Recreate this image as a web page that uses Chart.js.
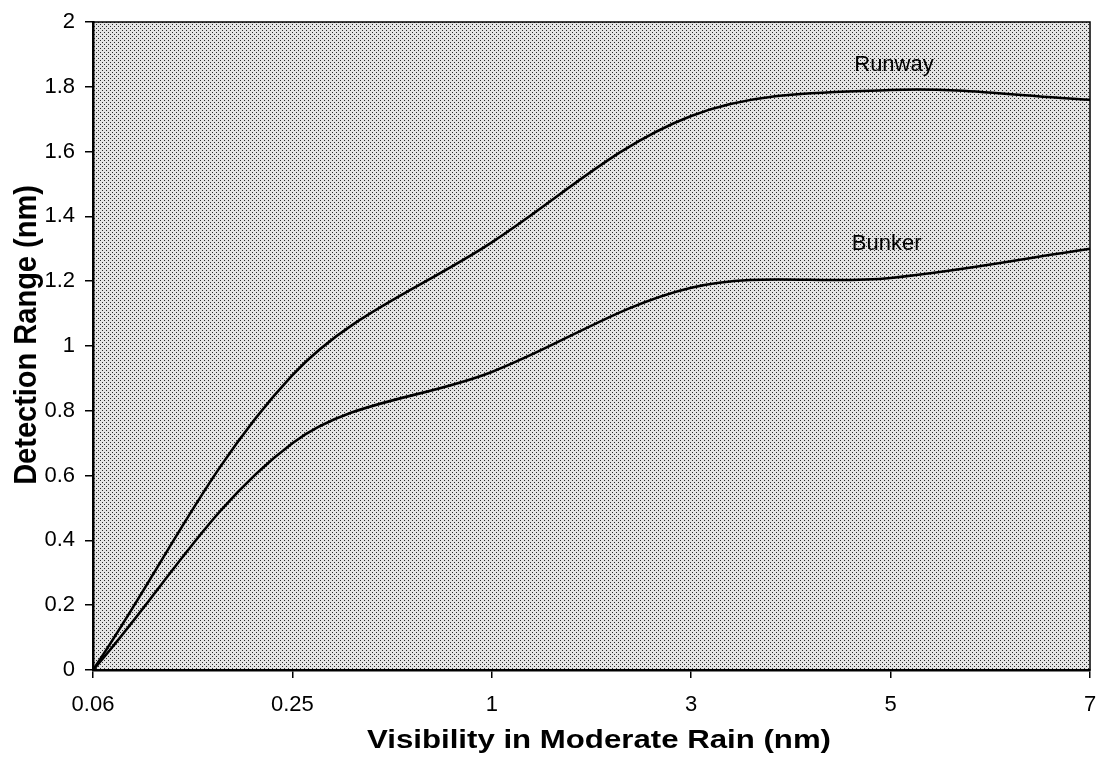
<!DOCTYPE html>
<html>
<head>
<meta charset="utf-8">
<script src="https://cdn.jsdelivr.net/npm/chart.js@4/dist/chart.umd.min.js"></script>
<style>
  html, body { margin: 0; padding: 0; background: #ffffff; }
  #wrap { width: 1097px; height: 759px; position: relative; }
</style>
</head>
<body>
<div id="wrap"><canvas id="c" width="1097" height="759"></canvas></div>
<script>
// ---- data ----
const visibility = ['0.06', '0.25', '1', '3', '5', '7'];
const runway = [0, 0.91, 1.32, 1.71, 1.79, 1.76];
const bunker = [0, 0.70, 0.92, 1.18, 1.21, 1.30];
const yTicks = [0, 0.2, 0.4, 0.6, 0.8, 1, 1.2, 1.4, 1.6, 1.8, 2];
const seriesNames = ['Runway', 'Bunker'];
const xTitle = 'Visibility in Moderate Rain (nm)';
const yTitle = 'Detection Range (nm)';

const FONT = '"Liberation Sans", Arial, Helvetica, sans-serif';

function makePattern(ctx) {
  const p = document.createElement('canvas');
  p.width = 4; p.height = 4;
  const pc = p.getContext('2d');
  pc.fillStyle = '#e4e4e4';
  pc.fillRect(0, 0, 4, 4);
  pc.fillStyle = '#2a2a2a';
  pc.fillRect(0, 0, 1, 1);
  pc.fillRect(2, 2, 1, 1);
  return ctx.createPattern(p, 'repeat');
}

const plotDecor = {
  id: 'plotDecor',
  beforeDraw(chart) {
    const { ctx, chartArea: a } = chart;
    ctx.save();
    ctx.fillStyle = makePattern(ctx);
    ctx.fillRect(a.left, a.top, a.right - a.left, a.bottom - a.top);
    ctx.restore();
  },
  afterDatasetsDraw(chart) {
    const { ctx, chartArea: a, scales } = chart;
    ctx.save();
    ctx.strokeStyle = '#000';
    ctx.lineWidth = 1.5;
    ctx.strokeRect(a.left, a.top, a.right - a.left, a.bottom - a.top);
    // series labels
    ctx.fillStyle = '#000';
    ctx.font = '22px ' + FONT;
    ctx.textAlign = 'center';
    ctx.textBaseline = 'middle';
    ctx.fillText(seriesNames[0], scales.x.getPixelForValue(4.017), scales.y.getPixelForValue(1.867));
    ctx.fillText(seriesNames[1], scales.x.getPixelForValue(3.98), scales.y.getPixelForValue(1.315));
    ctx.restore();
  },
  afterDraw(chart) {
    const { ctx } = chart;
    ctx.save();
    ctx.fillStyle = '#000';
    ctx.textAlign = 'center';
    ctx.textBaseline = 'alphabetic';
    // x axis title (slightly wide lettering, as in the original)
    ctx.font = 'bold 26px ' + FONT;
    ctx.save();
    ctx.translate(599, 748);
    ctx.scale(1.2, 1);
    ctx.fillText(xTitle, 0, 0);
    ctx.restore();
    // y axis title
    ctx.font = 'bold 29px ' + FONT;
    ctx.save();
    ctx.translate(36, 335);
    ctx.rotate(-Math.PI / 2);
    ctx.scale(1, 1.05);
    ctx.fillText(yTitle, 0, 0);
    ctx.restore();
    ctx.restore();
  }
};

new Chart(document.getElementById('c'), {
  type: 'line',
  data: {
    labels: visibility,
    datasets: [
      { label: seriesNames[0], data: runway, borderColor: '#000', borderWidth: 2.6, pointRadius: 0, tension: 0.35, fill: false },
      { label: seriesNames[1], data: bunker, borderColor: '#000', borderWidth: 2.6, pointRadius: 0, tension: 0.35, fill: false }
    ]
  },
  options: {
    responsive: false,
    animation: false,
    devicePixelRatio: 1,
    layout: { padding: { top: 22, right: 7, left: 0, bottom: 0 } },
    plugins: { legend: { display: false }, tooltip: { enabled: false } },
    scales: {
      x: {
        type: 'category',
        offset: false,
        grid: { display: true, drawOnChartArea: false, drawTicks: true, tickLength: 8, color: '#000', lineWidth: 1.5 },
        border: { display: true, color: '#000', width: 2.5 },
        ticks: { color: '#000', font: { family: FONT, size: 22 }, padding: 14, maxRotation: 0, autoSkip: false },
        title: { display: false },
        afterFit(s) { s.height = 89; s.paddingLeft = 0; s.paddingRight = 0; }
      },
      y: {
        min: 0, max: 2,
        afterBuildTicks(s) { s.ticks = yTicks.map(v => ({ value: v })); },
        grid: { display: true, drawOnChartArea: false, drawTicks: true, tickLength: 8, color: '#000', lineWidth: 1.5 },
        border: { display: true, color: '#000', width: 2.5 },
        ticks: { color: '#000', font: { family: FONT, size: 22 }, padding: 10, callback: v => String(+v.toFixed(1)) },
        title: { display: false },
        afterFit(s) { s.width = 93; s.paddingTop = 0; s.paddingBottom = 0; }
      }
    }
  },
  plugins: [plotDecor]
});
</script>
</body>
</html>
